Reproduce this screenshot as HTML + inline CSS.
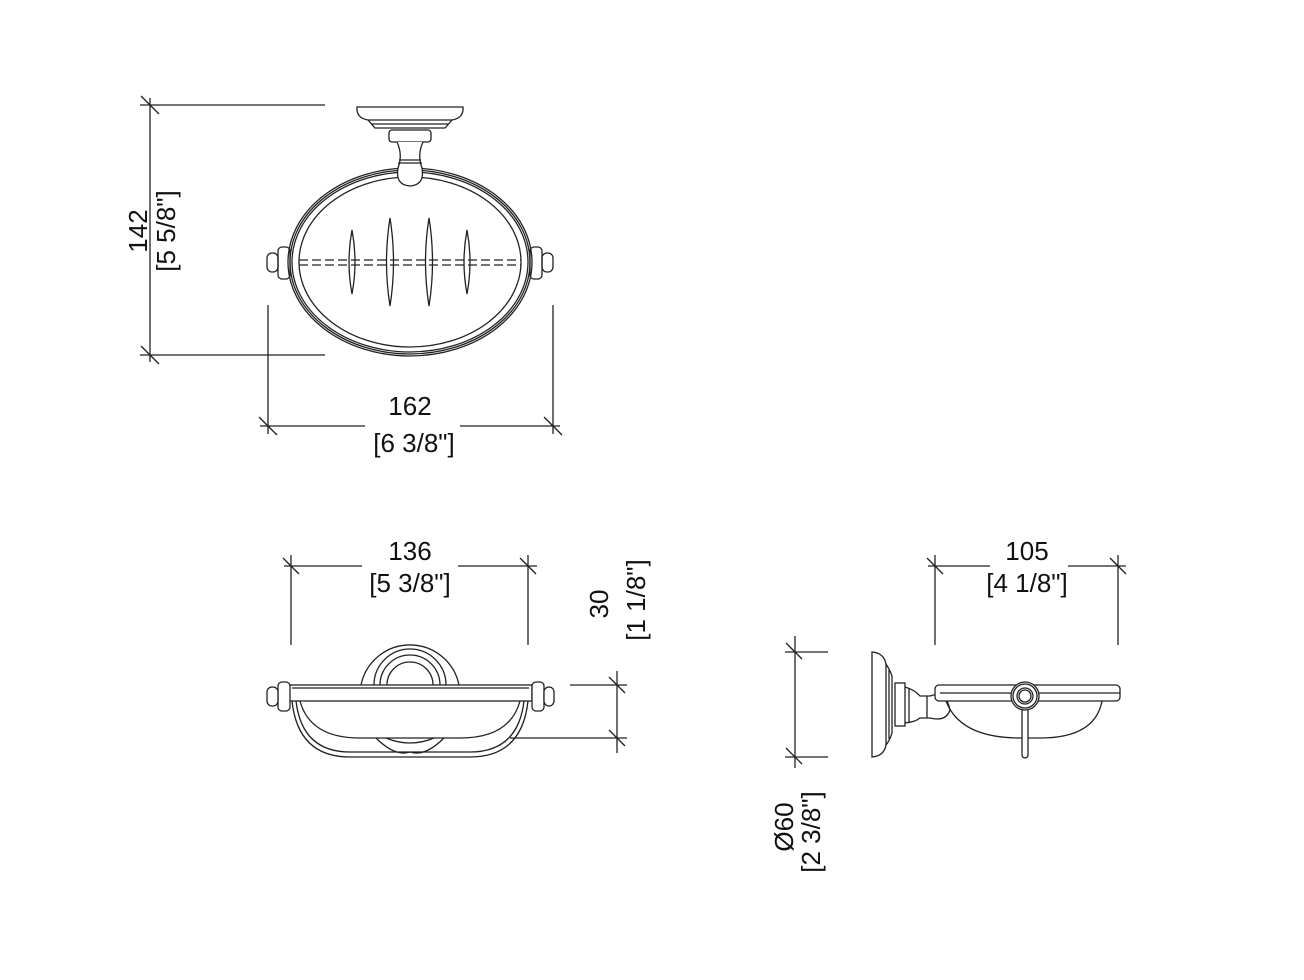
<!DOCTYPE html>
<html><head><meta charset="utf-8"><style>
html,body{margin:0;padding:0;background:#fff;}
svg{display:block;}
text{font-family:"Liberation Sans",sans-serif;font-size:26px;fill:#111;}
</style></head><body>
<svg width="1304" height="980" viewBox="0 0 1304 980" xmlns="http://www.w3.org/2000/svg">
<g stroke="#222" stroke-width="1.3" fill="none">
<line x1="140" y1="105" x2="325" y2="105"/>
<line x1="140" y1="355" x2="325" y2="355"/>
<line x1="150" y1="98" x2="150" y2="362"/>
<line x1="141" y1="96" x2="159" y2="114"/>
<line x1="141" y1="346" x2="159" y2="364"/>
<line x1="268" y1="305" x2="268" y2="434"/>
<line x1="553" y1="305" x2="553" y2="434"/>
<line x1="260" y1="426" x2="365" y2="426"/>
<line x1="460" y1="426" x2="560" y2="426"/>
<line x1="259" y1="417" x2="277" y2="435"/>
<line x1="544" y1="417" x2="562" y2="435"/>
<ellipse cx="410" cy="262" rx="122" ry="94"/>
<ellipse cx="410" cy="262" rx="120" ry="92"/>
<ellipse cx="410" cy="262" rx="118" ry="90"/>
<ellipse cx="410" cy="262" rx="111" ry="85"/>
<line x1="299" y1="260" x2="521" y2="260" stroke-dasharray="9,4"/>
<line x1="299" y1="265" x2="521" y2="265" stroke-dasharray="9,4"/>
<path d="M352 230 Q346 262 352 294 Q358 262 352 230Z"/>
<path d="M390 218 Q383 262 390 306 Q397 262 390 218Z"/>
<path d="M429 218 Q422 262 429 306 Q436 262 429 218Z"/>
<path d="M467 230 Q461 262 467 294 Q473 262 467 230Z"/>
<rect x="278" y="247" width="12" height="32" rx="4"/>
<rect x="267" y="253" width="11" height="19" rx="5"/>
<rect x="530" y="247" width="12" height="32" rx="4"/>
<rect x="542" y="253" width="11" height="19" rx="5"/>
<path d="M357 107 L463 107 Q464 118 452 120 L445 128 L375 128 L368 120 Q356 118 357 107Z" fill="#fff"/>
<line x1="368" y1="120" x2="452" y2="120"/>
<line x1="371" y1="124" x2="449" y2="124"/>
<rect x="389" y="130" width="42" height="12" rx="3" fill="#fff"/>
<path d="M397 142 Q403 155 398 168 Q395 185 410 186 Q425 185 422 168 Q417 155 423 142" fill="#fff"/>
<line x1="399" y1="160" x2="421" y2="160"/>
<line x1="398" y1="163" x2="422" y2="163"/>

<line x1="291" y1="555" x2="291" y2="645"/>
<line x1="528" y1="555" x2="528" y2="645"/>
<line x1="284" y1="566" x2="362" y2="566"/>
<line x1="458" y1="566" x2="537" y2="566"/>
<line x1="283" y1="558" x2="299" y2="574"/>
<line x1="520" y1="558" x2="536" y2="574"/>
<line x1="570" y1="685" x2="627" y2="685"/>
<line x1="510" y1="738" x2="627" y2="738"/>
<line x1="617" y1="671" x2="617" y2="753"/>
<line x1="609" y1="677" x2="625" y2="693"/>
<line x1="609" y1="730" x2="625" y2="746"/>
<path d="M361 685 A50 50 0 0 1 459 685"/>
<path d="M374 685 A36 36 0 0 1 446 685"/>
<path d="M380 685 A30 30 0 0 1 440 685"/>
<path d="M387 685 A23 23 0 0 1 433 685"/>
<path d="M376 738 Q395 757 410 752 Q425 757 444 738"/>
<path d="M386 738 Q410 748 434 738"/>
<path d="M300 701 Q310 738 360 738 L460 738 Q510 738 520 701"/>
<path d="M292 701 Q298 757 350 757 L470 757 Q522 757 528 701"/>
<path d="M296 701 Q302 752 350 752 L470 752 Q518 752 524 701"/>
<rect x="289" y="685" width="243" height="16" fill="#fff"/>
<line x1="292" y1="688" x2="529" y2="688"/>
<rect x="278" y="682" width="12" height="29" rx="4" fill="#fff"/>
<rect x="267" y="687" width="11" height="19" rx="5" fill="#fff"/>
<rect x="532" y="682" width="12" height="29" rx="4" fill="#fff"/>
<rect x="544" y="687" width="10" height="19" rx="5" fill="#fff"/>

<line x1="935" y1="555" x2="935" y2="645"/>
<line x1="1118" y1="555" x2="1118" y2="645"/>
<line x1="928" y1="566" x2="990" y2="566"/>
<line x1="1068" y1="566" x2="1126" y2="566"/>
<line x1="927" y1="558" x2="943" y2="574"/>
<line x1="1110" y1="558" x2="1126" y2="574"/>
<line x1="785" y1="652" x2="828" y2="652"/>
<line x1="785" y1="757" x2="828" y2="757"/>
<line x1="795" y1="636" x2="795" y2="768"/>
<line x1="786" y1="643" x2="802" y2="659"/>
<line x1="786" y1="748" x2="802" y2="764"/>
<path d="M872 652 L872 757 Q884 756 886 745 L886 664 Q884 653 872 652Z"/>
<path d="M886 664 Q890 670 892 676 L892 733 Q890 740 886 745"/>
<line x1="889" y1="670" x2="889" y2="739"/>
<rect x="895" y="683" width="10" height="43"/>
<path d="M905 687 Q915 690 920 696 L930 696 Q946 690 950 710 Q946 722 930 718 L920 718 Q915 722 905 723"/>
<line x1="909" y1="689" x2="909" y2="722"/>
<line x1="927" y1="696" x2="927" y2="718"/>
<path d="M946 701 Q960 738 1020 738 L1040 738 Q1095 738 1102 701"/>
<rect x="935" y="685" width="185" height="16" rx="4" fill="#fff"/>
<line x1="940" y1="693" x2="1120" y2="693"/>
<rect x="1022" y="708" width="6" height="50" rx="3" fill="#fff"/>
<circle cx="1025" cy="696" r="14" fill="#fff"/>
<circle cx="1025" cy="696" r="12"/>
<circle cx="1025" cy="696" r="8"/>
<circle cx="1025" cy="696" r="6"/>
</g>
<g>
<text x="410" y="415" text-anchor="middle">162</text>
<text x="414" y="452" text-anchor="middle">[6 3/8"]</text>
<text transform="translate(147,231) rotate(-90)" text-anchor="middle">142</text>
<text transform="translate(175,231) rotate(-90)" text-anchor="middle">[5 5/8"]</text>
<text x="410" y="560" text-anchor="middle">136</text>
<text x="410" y="592" text-anchor="middle">[5 3/8"]</text>
<text transform="translate(608,604) rotate(-90)" text-anchor="middle">30</text>
<text transform="translate(645,600) rotate(-90)" text-anchor="middle">[1 1/8"]</text>
<text x="1027" y="560" text-anchor="middle">105</text>
<text x="1027" y="592" text-anchor="middle">[4 1/8"]</text>
<text transform="translate(793,827) rotate(-90)" text-anchor="middle">Ø60</text>
<text transform="translate(820,832) rotate(-90)" text-anchor="middle">[2 3/8"]</text>
</g>
</svg>
</body></html>
